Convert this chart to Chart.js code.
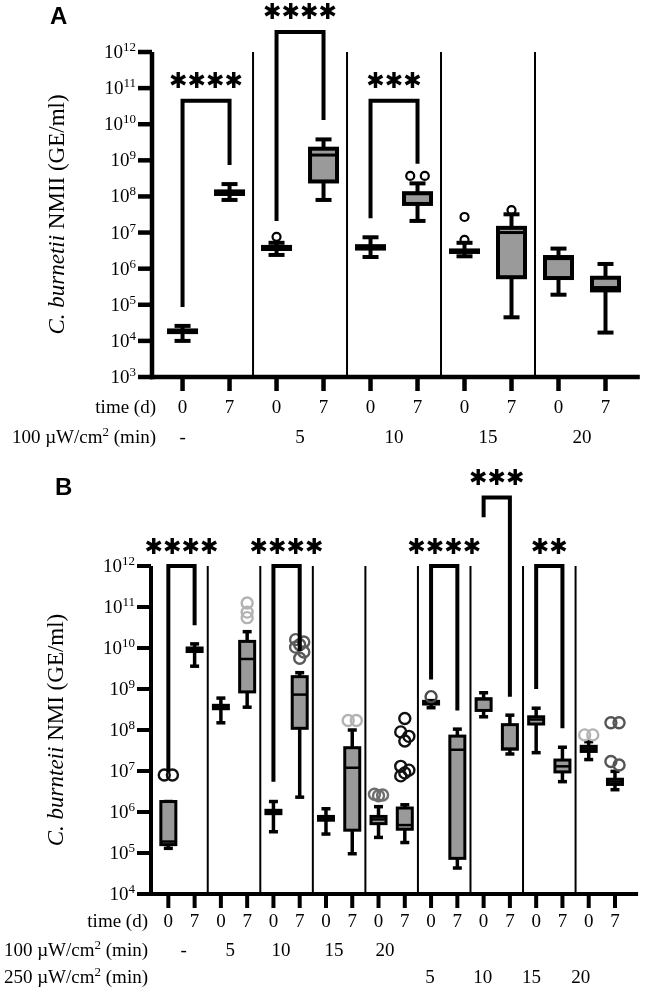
<!DOCTYPE html>
<html>
<head>
<meta charset="utf-8">
<script src="https://cdn.jsdelivr.net/npm/chart.js@4.4.1/dist/chart.umd.min.js"></script>
<style>
  html, body { margin: 0; padding: 0; background: #fff; }
  #wrap { position: relative; width: 646px; height: 993px; }
  canvas { position: absolute; left: 0; }
</style>
</head>
<body>
<div id="wrap">
  <canvas id="chartA" width="646" height="455" style="top:0px"></canvas>
  <canvas id="chartB" width="646" height="538" style="top:455px"></canvas>
</div>
<script>
// ---------- panel A : C. burnetii NMII, 100 uW/cm2 ----------
const timeA = ['0', '7', '0', '7', '0', '7', '0', '7', '0', '7']
const dose100A = ['-', '5', '10', '15', '20']
const minA = [1.0e4, 8.0e7, 2.4e6, 8.0e7, 2.1e6, 2.1e7, 2.2e6, 4.5e4, 1.9e5, 1.7e4]
const q1A  = [1.75e4, 1.17e8, 3.5e6, 2.6e8, 3.6e6, 6.2e7, 2.9e6, 5.8e5, 5.5e5, 2.5e5]
const medA = [1.85e4, 1.27e8, 3.7e6, 1.4e9, 3.9e6, 1.2e8, 3.05e6, 1.0e7, 1.9e6, 3.0e5]
const q3A  = [1.95e4, 1.38e8, 4.0e6, 2.1e9, 4.2e6, 1.23e8, 3.2e6, 1.35e7, 2.1e6, 5.6e5]
const maxA = [2.6e4, 2.2e8, 5.2e6, 3.8e9, 7.4e6, 2.3e8, 5.2e6, 3.2e7, 3.6e6, 1.35e6]
const outliersA = [[], [], [7.6e6], [], [], [3.7e8, 3.7e8], [6.3e6, 2.7e7], [4.2e7], [], []]
// brackets: left group, right group, bracket top, left leg end, right leg end
const bracketsA = [[0, 1, 4.5e10, 8.7e4, 7.4e8], [2, 3, 3.6e12, 2.1e7, 1.3e10], [4, 5, 4.5e10, 2.5e7, 8.0e8]]
const starsA = [4, 4, 3]

// ---------- panel B : C. burnetii NMI, 100 and 250 uW/cm2 ----------
const timeB = ['0', '7', '0', '7', '0', '7', '0', '7', '0', '7', '0', '7', '0', '7', '0', '7', '0', '7']
const dose100B = ['-', '5', '10', '15', '20']
const dose250B = ['5', '10', '15', '20']
const minB = [1.3e5, 3.6e9, 1.5e8, 3.6e8, 3.3e5, 2.3e6, 2.9e5, 9.6e4, 2.4e5, 1.8e5, 3.5e8, 4.3e4, 2.1e8, 2.6e7, 2.8e7, 5.5e6, 1.9e7, 3.5e6]
const q1B  = [1.6e5, 8.2e9, 3.3e8, 8.5e8, 9.1e5, 1.1e8, 6.3e5, 3.6e5, 5.2e5, 3.8e5, 4.3e8, 7.4e4, 3.0e8, 3.4e7, 1.4e8, 9.5e6, 3.0e7, 4.7e6]
const medB = [1.9e5, 9.0e9, 3.6e8, 5.4e9, 1.0e6, 7.3e8, 7.0e5, 1.2e7, 6.6e5, 4.8e5, 4.7e8, 3.3e7, 5.6e8, 3.5e7, 1.8e8, 1.3e7, 3.5e7, 5.5e6]
const q3B  = [1.8e6, 1.0e10, 4.0e8, 1.45e10, 1.1e6, 2.0e9, 7.8e5, 3.7e7, 7.8e5, 1.25e6, 5.0e8, 7.1e7, 5.8e8, 1.35e8, 2.1e8, 1.85e7, 4.0e7, 6.3e6]
const maxB = [1.8e6, 1.26e10, 6.0e8, 2.5e10, 1.8e6, 2.5e9, 1.2e6, 1.0e8, 1.35e6, 1.5e6, 5.2e8, 1.05e8, 8.1e8, 2.3e8, 3.4e8, 3.8e7, 5.2e7, 9.8e6]
const outliersB = [
  [8.0e6, 8.0e6], [], [], [1.25e11, 7.5e10, 5.5e10], [], [1.6e10, 1.4e10, 1.2e10, 1.05e10, 8.0e9, 5.6e9],
  [], [1.7e8, 1.7e8], [2.7e6, 2.6e6, 2.5e6], [1.9e8, 9.0e7, 7.0e7, 5.4e7, 1.3e7, 1.05e7, 9.0e6, 7.6e6],
  [6.5e8], [], [], [], [], [], [7.6e7, 7.6e7], [1.5e8, 1.5e8, 1.7e7, 1.4e7]
]
const bracketsB = [[0, 1, 1e12, 9.5e6, 3.6e10], [4, 5, 1e12, 5.5e6, 8.5e9], [10, 11, 1e12, 1.7e9, 3.0e8],
  [12, 13, 4.7e13, 1.55e13, 6.5e8], [14, 15, 1e12, 1.0e9, 1.1e8]]
const starsB = [4, 4, 4, 3, 2]

// ---------- drawing helpers ----------
const SERIF = '"Liberation Serif", "Times New Roman", serif'
const SANS = '"Liberation Sans", Arial, sans-serif'

function line(ctx, x1, y1, x2, y2) {
  ctx.beginPath()
  ctx.moveTo(x1, y1)
  ctx.lineTo(x2, y2)
  ctx.stroke()
}

function drawRich(ctx, segs, x, y, align) {
  let w = 0
  segs.forEach(s => { ctx.font = s.font; w += ctx.measureText(s.t).width })
  let cx = align === 'right' ? x - w : align === 'center' ? x - w / 2 : x
  ctx.textAlign = 'left'
  segs.forEach(s => {
    ctx.font = s.font
    ctx.fillText(s.t, cx, y + (s.dy || 0))
    cx += ctx.measureText(s.t).width
  })
}

// heavy asterisks, scaled so one glyph is about 16px wide
function drawStars(ctx, n, cx, cy, pitch) {
  const glyph = '\u2731'
  ctx.font = 'bold 20px "DejaVu Sans", sans-serif'
  let m = ctx.measureText(glyph)
  const size = 20 * 16.5 / (m.actualBoundingBoxLeft + m.actualBoundingBoxRight)
  ctx.font = 'bold ' + size.toFixed(1) + 'px "DejaVu Sans", sans-serif'
  ctx.textAlign = 'center'
  ctx.textBaseline = 'alphabetic'
  m = ctx.measureText(glyph)
  const off = (m.actualBoundingBoxAscent - m.actualBoundingBoxDescent) / 2
  for (let k = 0; k < n; k++) {
    ctx.fillText(glyph, cx + (k - (n - 1) / 2) * pitch, cy + off)
  }
}

// outliers at about the same height are put next to each other
function outlierPoints(outs, colors) {
  const pts = [], cols = []
  const pattern = [-0.5, 0.5, 0]
  const near = (a, b) => Math.abs(Math.log10(a) - Math.log10(b)) < 0.12
  outs.forEach((list, i) => {
    let k = 0
    list.forEach((v, j) => {
      k = j > 0 && near(v, list[j - 1]) ? k + 1 : 0
      const grouped = k > 0 || (j + 1 < list.length && near(list[j + 1], v))
      pts.push({x: i + (grouped ? pattern[k % 3] * 0.31 : 0), y: v})
      cols.push(colors[i])
    })
  })
  return {pts, cols}
}

function makeBoxPlugin(cfg) {
  return {
    id: 'boxes',
    beforeDatasetsDraw(chart) {
      const ctx = chart.ctx, xs = chart.scales.x, ys = chart.scales.y, a = chart.chartArea
      const p = v => ys.getPixelForValue(v)
      ctx.save()
      ctx.strokeStyle = '#000'
      ctx.lineCap = 'butt'
      ctx.lineWidth = cfg.sepWidth
      cfg.separators.forEach(v => {
        const x = xs.getPixelForValue(v)
        line(ctx, x, a.top, x, a.bottom)
      })
      for (let i = 0; i < cfg.med.length; i++) {
        const x = xs.getPixelForValue(i)
        ctx.lineWidth = cfg.whisker
        line(ctx, x, p(cfg.max[i]), x, p(cfg.q3[i]))
        line(ctx, x, p(cfg.q1[i]), x, p(cfg.min[i]))
        line(ctx, x - cfg.cap / 2, p(cfg.max[i]), x + cfg.cap / 2, p(cfg.max[i]))
        line(ctx, x - cfg.cap / 2, p(cfg.min[i]), x + cfg.cap / 2, p(cfg.min[i]))
        const top = p(cfg.q3[i]), bot = p(cfg.q1[i])
        ctx.fillStyle = '#9a9a9a'
        ctx.fillRect(x - cfg.box / 2, top, cfg.box, bot - top)
        ctx.lineWidth = cfg.medWidth
        line(ctx, x - cfg.box / 2, p(cfg.med[i]), x + cfg.box / 2, p(cfg.med[i]))
        ctx.lineWidth = cfg.boxLine
        ctx.strokeRect(x - cfg.box / 2, top, cfg.box, bot - top)
      }
      ctx.restore()
    },
    afterDraw(chart) {
      const ctx = chart.ctx, xs = chart.scales.x, ys = chart.scales.y, a = chart.chartArea
      ctx.save()
      ctx.strokeStyle = '#000'
      ctx.fillStyle = '#000'
      // axes
      ctx.lineWidth = cfg.axisWidth
      line(ctx, a.left, a.top, a.left, a.bottom + cfg.axisWidth / 2)
      line(ctx, a.left - cfg.axisWidth / 2, a.bottom, a.right, a.bottom)
      // y ticks and labels
      ctx.textBaseline = 'alphabetic'
      for (let e = cfg.decades[0]; e <= cfg.decades[1]; e++) {
        const y = ys.getPixelForValue(Math.pow(10, e))
        line(ctx, a.left - cfg.tickLen, y, a.left, y)
        drawRich(ctx, [
          {t: '10', font: cfg.tickFont + 'px ' + SERIF},
          {t: String(e), font: (cfg.tickFont - 6) + 'px ' + SERIF, dy: -7}
        ], a.left - cfg.tickLen - 2, y + 6, 'right')
      }
      // x ticks
      for (let i = 0; i < cfg.time.length; i++) {
        const x = xs.getPixelForValue(i)
        line(ctx, x, a.bottom, x, a.bottom + cfg.tickLen)
      }
      // x label rows
      cfg.rows.forEach(r => {
        const y = a.bottom + r.dy
        drawRich(ctx, r.name, cfg.rowNameX, y, 'right')
        ctx.font = cfg.tickFont + 'px ' + SERIF
        ctx.textAlign = 'center'
        r.labels.forEach((t, k) => ctx.fillText(t, xs.getPixelForValue(r.at[k]), y))
      })
      // significance brackets
      ctx.lineWidth = cfg.bracketWidth
      ctx.lineJoin = 'miter'
      cfg.brackets.forEach((b, k) => {
        const xa = xs.getPixelForValue(b[0]), xb = xs.getPixelForValue(b[1])
        const yt = ys.getPixelForValue(b[2])
        ctx.beginPath()
        ctx.moveTo(xa, ys.getPixelForValue(b[3]))
        ctx.lineTo(xa, yt)
        ctx.lineTo(xb, yt)
        ctx.lineTo(xb, ys.getPixelForValue(b[4]))
        ctx.stroke()
        drawStars(ctx, cfg.stars[k], (xa + xb) / 2, yt - 21, 18.5)
      })
      // y title
      ctx.save()
      ctx.translate(cfg.titleX, (a.top + a.bottom) / 2)
      ctx.rotate(-Math.PI / 2)
      ctx.textBaseline = 'middle'
      drawRich(ctx, cfg.title, 0, 0, 'center')
      ctx.restore()
      // panel letter
      ctx.font = 'bold 24px ' + SANS
      ctx.textAlign = 'left'
      ctx.textBaseline = 'alphabetic'
      ctx.fillText(cfg.letter[0], cfg.letter[1], cfg.letter[2])
      ctx.restore()
    }
  }
}

function unitLabel(num, size) {
  return [
    {t: num + ' \u00b5W/cm', font: size + 'px ' + SERIF},
    {t: '2', font: (size - 6) + 'px ' + SERIF, dy: -7},
    {t: ' (min)', font: size + 'px ' + SERIF}
  ]
}

function makeChart(id, c) {
  const o = outlierPoints(c.outliers, c.outColors)
  return new Chart(document.getElementById(id), {
    type: 'scatter',
    data: {
      datasets: [{
        data: o.pts,
        pointRadius: c.outR,
        pointHoverRadius: c.outR,
        pointBorderWidth: c.outW,
        pointBackgroundColor: 'rgba(0,0,0,0)',
        pointBorderColor: o.cols
      }]
    },
    options: {
      responsive: false,
      animation: false,
      events: [],
      layout: {padding: c.padding},
      scales: {
        x: {type: 'linear', min: c.xRange[0], max: c.xRange[1], display: false},
        y: {type: 'logarithmic', min: c.yRange[0], max: c.yRange[1], display: false}
      },
      plugins: {legend: {display: false}, tooltip: {enabled: false}}
    },
    plugins: [makeBoxPlugin(c)]
  })
}

makeChart('chartA', {
  min: minA, q1: q1A, med: medA, q3: q3A, max: maxA,
  outliers: outliersA, outColors: timeA.map(() => '#000'),
  outR: 4, outW: 2.2,
  brackets: bracketsA, stars: starsA,
  time: timeA,
  separators: [1.5, 3.5, 5.5, 7.5],
  padding: {left: 152, right: 1, top: 52, bottom: 78},
  xRange: [-0.65, 9.73], yRange: [1e3, 1e12], decades: [3, 12],
  box: 27, boxLine: 4, medWidth: 3, whisker: 4, cap: 16,
  sepWidth: 2, axisWidth: 4.5, tickLen: 14, bracketWidth: 4, tickFont: 19,
  rowNameX: 156,
  rows: [
    {name: [{t: 'time (d)', font: '19px ' + SERIF}], labels: timeA, at: [0, 1, 2, 3, 4, 5, 6, 7, 8, 9], dy: 36},
    {name: unitLabel('100', 19), labels: dose100A, at: [0, 2.5, 4.5, 6.5, 8.5], dy: 66}
  ],
  title: [{t: 'C. burnetii', font: 'italic 23px ' + SERIF}, {t: ' NMII (GE/ml)', font: '23px ' + SERIF}],
  titleX: 58,
  letter: ['A', 50, 24]
})

makeChart('chartB', {
  min: minB, q1: q1B, med: medB, q3: q3B, max: maxB,
  outliers: outliersB,
  outColors: ['#111', '#000', '#000', '#b3b3b3', '#000', '#5a5a5a', '#000', '#b3b3b3', '#6e6e6e',
    '#111', '#4a4a4a', '#000', '#000', '#000', '#000', '#000', '#b3b3b3', '#555'],
  outR: 5.5, outW: 2.4,
  brackets: bracketsB, stars: starsB,
  time: timeB,
  separators: [1.5, 3.5, 5.5, 7.5, 9.5, 11.5, 13.5, 15.5],
  padding: {left: 151, right: 1, top: 111, bottom: 99},
  xRange: [-0.66, 17.88], yRange: [1e4, 1e12], decades: [4, 12],
  box: 15, boxLine: 3, medWidth: 2.5, whisker: 3.5, cap: 9,
  sepWidth: 2, axisWidth: 4, tickLen: 14, bracketWidth: 4, tickFont: 19,
  rowNameX: 148,
  rows: [
    {name: [{t: 'time (d)', font: '19px ' + SERIF}], labels: timeB,
      at: timeB.map((t, i) => i), dy: 33},
    {name: unitLabel('100', 19), labels: dose100B, at: [0.58, 2.36, 4.29, 6.31, 8.25], dy: 62},
    {name: unitLabel('250', 19), labels: dose250B, at: [9.96, 11.97, 13.82, 15.7], dy: 89}
  ],
  title: [{t: 'C. burnteii', font: 'italic 23px ' + SERIF}, {t: ' NMI (GE/ml)', font: '23px ' + SERIF}],
  titleX: 57,
  letter: ['B', 55, 40]
})
</script>
</body>
</html>
